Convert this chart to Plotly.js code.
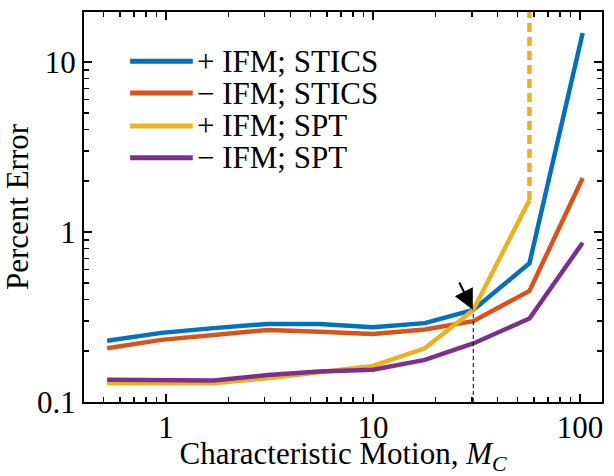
<!DOCTYPE html>
<html>
<head>
<meta charset="utf-8">
<script src="https://cdn.plot.ly/plotly-3.0.1.min.js"></script>
<style>html,body{margin:0;padding:0;background:#fff;}#chart{width:614px;height:476px;}</style>
</head>
<body>
<div id="chart"></div>
<script>
// Characteristic motion values (shared x)
var motion = [0.52, 0.95, 1.7, 3.1, 5.5, 10, 17.8, 30.5, 57, 103];
var motionSPTplus = [0.52, 0.95, 1.7, 3.1, 5.5, 10, 17.8, 30.5, 57];
// Percent error series
var plusSTICS  = [0.229, 0.255, 0.272, 0.288, 0.288, 0.275, 0.291, 0.348, 0.655, 14.8];
var minusSTICS = [0.207, 0.232, 0.248, 0.265, 0.259, 0.251, 0.267, 0.299, 0.45, 2.08];
var plusSPT    = [0.129, 0.129, 0.129, 0.138, 0.149, 0.163, 0.207, 0.348, 1.54];
var minusSPT   = [0.135, 0.135, 0.134, 0.144, 0.151, 0.155, 0.177, 0.221, 0.31, 0.865];
// Divergence of +IFM; SPT beyond last point
var divergeX = [57, 57];
var divergeY = [1.54, 60];
// Marker line at crossover
var crossX = [30.5, 30.5];
var crossY = [0.1, 0.345];
var seriesNames = ['+ IFM; STICS', '\u2212 IFM; STICS', '+ IFM; SPT', '\u2212 IFM; SPT'];
var colors = ['#0072BD', '#D95319', '#EDB120', '#7E2F8E'];
// Tick positions
var majorTicks = [0.1, 1, 10, 100];
var majorLabels = ['0.1', '1', '10', '100'];
var minorTicksX = [0.5, 0.6, 0.7, 0.8, 0.9, 2, 3, 4, 5, 6, 7, 8, 9, 20, 30, 40, 50, 60, 70, 80, 90];
var minorTicksY = [0.2, 0.3, 0.4, 0.5, 0.6, 0.7, 0.8, 0.9, 2, 3, 4, 5, 6, 7, 8, 9];

var font = 'Liberation Serif, Times New Roman, serif';
var lw = 4.5;

var traces = [
  // crossover marker drawn on the overlay axes (same ranges) so their minor ticks render
  {x: crossX, y: crossY, xaxis: 'x2', yaxis: 'y2', mode: 'lines', line: {color: 'black', width: 1, dash: '4px,3px'}, showlegend: false, hoverinfo: 'skip'},
  {x: divergeX, y: divergeY, mode: 'lines', line: {color: colors[2], width: lw, dash: '9px,5px'}, showlegend: false},
  {x: motion, y: plusSTICS, mode: 'lines', name: seriesNames[0], line: {color: colors[0], width: lw}},
  {x: motion, y: minusSTICS, mode: 'lines', name: seriesNames[1], line: {color: colors[1], width: lw}},
  {x: motionSPTplus, y: plusSPT, mode: 'lines', name: seriesNames[2], line: {color: colors[2], width: lw}},
  {x: motion, y: minusSPT, mode: 'lines', name: seriesNames[3], line: {color: colors[3], width: lw}}
];

// custom legend (paper coords)
var legRows = [0.874, 0.792, 0.708, 0.626];
var shapes = [], annotations = [];
for (var i = 0; i < 4; i++) {
  shapes.push({type: 'line', xref: 'paper', yref: 'paper', x0: 0.089, x1: 0.21, y0: legRows[i], y1: legRows[i],
    line: {color: colors[i], width: 5}});
  annotations.push({xref: 'paper', yref: 'paper', x: 0.214, y: legRows[i], xanchor: 'left', yanchor: 'middle',
    text: seriesNames[i], showarrow: false, font: {family: font, size: 31, color: 'black'}});
}
// arrow pointing at crossover
annotations.push({x: Math.log10(30.5), y: Math.log10(0.345), xref: 'x', yref: 'y', text: ' ', showarrow: true,
  arrowhead: 2, arrowsize: 2, arrowwidth: 2, arrowcolor: 'black', ax: -15, ay: -30, standoff: 1,
  font: {size: 1}});

var xRange = [Math.log10(0.402), Math.log10(127.7)];
var yRange = [-1, 1.294];

var axisCommon = {
  type: 'log', showgrid: false, zeroline: false, showline: true, linecolor: 'black', linewidth: 2,
  mirror: 'allticks', ticks: 'inside', ticklen: 8, tickwidth: 2, tickcolor: 'black',
  tickmode: 'array', tickvals: majorTicks, ticktext: majorLabels,
  tickfont: {family: font, size: 31, color: 'black'}
};
var minorCommon = {
  type: 'log', showgrid: false, zeroline: false, showline: false,
  mirror: 'ticks', ticks: 'inside', ticklen: 5, tickwidth: 1.5, tickcolor: 'black',
  tickmode: 'array', showticklabels: false
};

var layout = {
  width: 614, height: 476,
  margin: {l: 84, r: 12, t: 12, b: 74},
  paper_bgcolor: 'white', plot_bgcolor: 'white',
  showlegend: false,
  font: {family: font, size: 31, color: 'black'},
  xaxis: Object.assign({}, axisCommon, {
    range: xRange, ticklabelstandoff: -3,
    title: {text: 'Characteristic Motion, <i>M</i><sub><i>C</i></sub>', font: {family: font, size: 31}, standoff: 3}
  }),
  yaxis: Object.assign({}, axisCommon, {
    range: yRange,
    title: {text: 'Percent Error', font: {family: font, size: 31}, standoff: 8}
  }),
  xaxis2: Object.assign({}, minorCommon, {overlaying: 'x', anchor: 'y2', side: 'bottom', range: xRange, tickvals: minorTicksX}),
  yaxis2: Object.assign({}, minorCommon, {overlaying: 'y', anchor: 'x2', side: 'left', range: yRange, tickvals: minorTicksY}),
  shapes: shapes,
  annotations: annotations
};

Plotly.newPlot('chart', traces, layout, {displayModeBar: false, staticPlot: true});
</script>
</body>
</html>
